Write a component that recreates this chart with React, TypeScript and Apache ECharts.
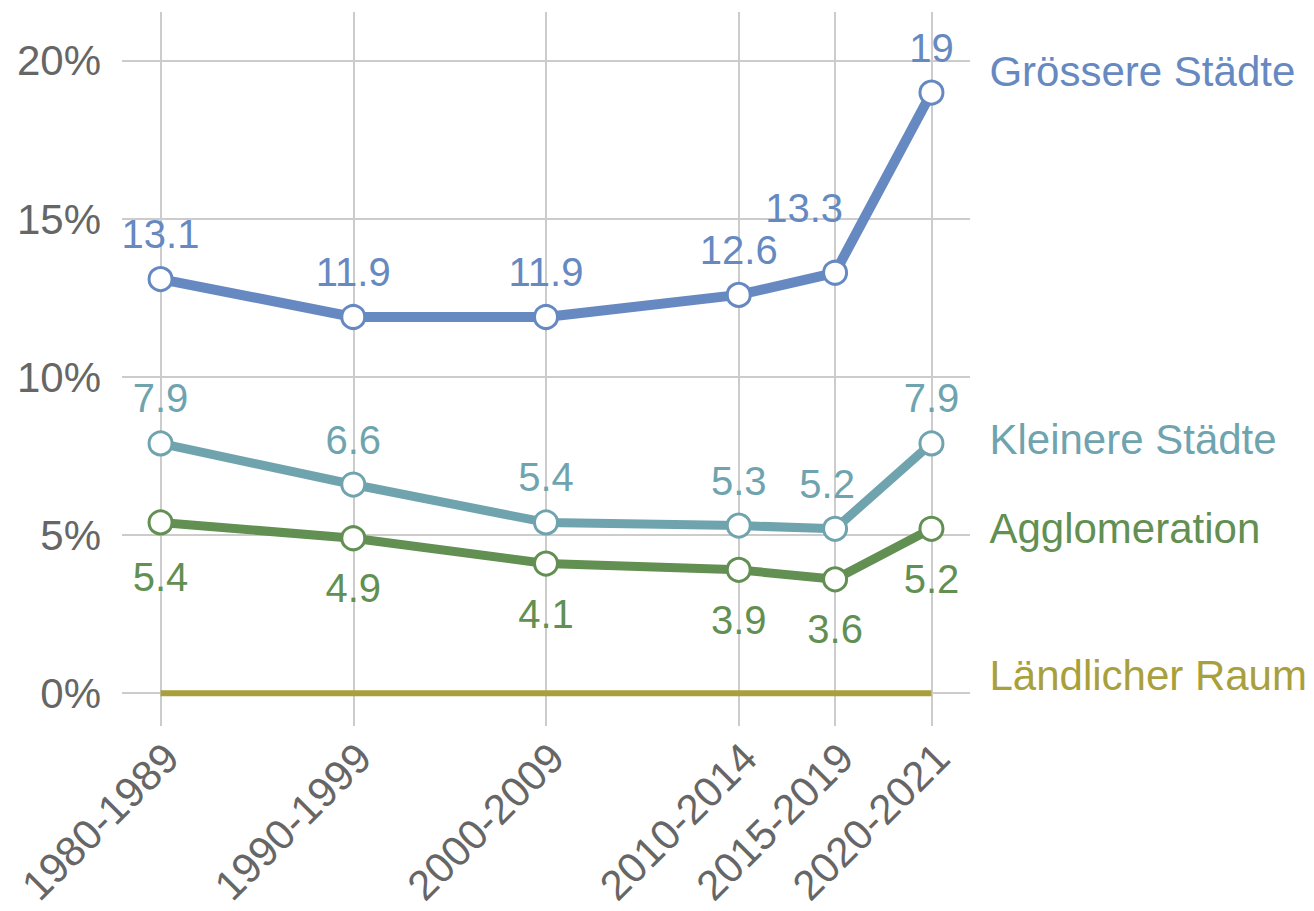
import React, { useEffect, useRef } from "react";
import * as echarts from "echarts";

const categories = ["1980-1989", "1990-1999", "2000-2009", "2010-2014", "2015-2019", "2020-2021"];
const categoryPos = [0, 2, 4, 6, 7, 8];
const seriesNames = ["Grössere Städte", "Kleinere Städte", "Agglomeration", "Ländlicher Raum"];
const grosse = [13.1, 11.9, 11.9, 12.6, 13.3, 19];
const kleine = [7.9, 6.6, 5.4, 5.3, 5.2, 7.9];
const agglo = [5.4, 4.9, 4.1, 3.9, 3.6, 5.2];
const laendlich = [0, 0, 0, 0, 0, 0];
const yTicks = [0, 5, 10, 15, 20];

const colors = ["#6689c1", "#6fa4af", "#628f52", "#a9a03b"];
const FONT = "Liberation Sans, Arial, Helvetica, sans-serif";

export default function App() {
  const ref = useRef<HTMLDivElement>(null);
  useEffect(() => {
    if (!ref.current) return;
    const chart = echarts.init(ref.current, null, { renderer: "svg" });
    const pts = (vals: number[]) => vals.map((v, i) => [categoryPos[i], v]);
    const markerSeries = (idx: number, vals: number[], pos: "top" | "bottom", width: number, z: number) => ({
      type: "line",
      name: seriesNames[idx],
      data: pts(vals).map((p, i) => {
        const item: any = { value: p };
        if (idx === 0 && i === 4) item.label = { offset: [-31, -20] };
        if (idx === 1 && i === 4) item.label = { offset: [-8, 0] };
        if (idx === 2 && i === 0) item.label = { offset: [0, 5] };
        return item;
      }),
      z,
      lineStyle: { color: colors[idx], width },
      itemStyle: { color: "#ffffff", borderColor: colors[idx], borderWidth: 3 },
      symbol: "circle",
      symbolSize: 23,
      showSymbol: true,
      label: {
        show: true,
        position: pos,
        distance: pos === "top" ? 12 : 17,
        color: colors[idx],
        fontSize: 40,
        fontFamily: FONT,
        formatter: (p: any) => String(p.value[1]),
      },
      endLabel: {
        show: true,
        formatter: seriesNames[idx],
        color: colors[idx],
        fontSize: 42,
        fontFamily: FONT,
        distance: 58,
        offset: idx === 0 ? [0, -21] : idx === 1 ? [0, -4] : [0, 0],
      },
      emphasis: { disabled: true },
    });
    chart.setOption({
      animation: false,
      backgroundColor: "#ffffff",
      grid: { left: 122, right: 344, top: 12, bottom: 185, outerBoundsMode: "none", containLabel: false },
      xAxis: {
        type: "value",
        min: -0.4,
        max: 8.4,
        axisLine: { show: false },
        axisTick: { show: false, customValues: categoryPos },
        splitLine: { show: true, lineStyle: { color: "#cccccc", width: 2 } },
        axisLabel: {
          show: true,
          customValues: categoryPos,
          rotate: 45,
          margin: 14,
          verticalAlign: "top",
          lineHeight: 30,
          fontSize: 42,
          color: "#666666",
          fontFamily: FONT,
          formatter: (v: number) => {
            const i = categoryPos.indexOf(v);
            return i >= 0 ? categories[i] : "";
          },
        },
      },
      yAxis: {
        type: "value",
        min: -1.04,
        max: 21.55,
        axisLine: { show: false },
        axisTick: { show: false, customValues: yTicks },
        splitLine: { show: true, lineStyle: { color: "#cccccc", width: 2 } },
        axisLabel: {
          show: true,
          customValues: yTicks,
          margin: 21,
          fontSize: 42,
          color: "#666666",
          fontFamily: FONT,
          formatter: (v: number) => v + "%",
        },
      },
      series: [
        {
          type: "line",
          name: seriesNames[3],
          data: pts(laendlich),
          z: 2,
          showSymbol: false,
          symbol: "none",
          lineStyle: { color: colors[3], width: 6 },
          endLabel: {
            show: true,
            formatter: seriesNames[3],
            color: colors[3],
            fontSize: 42,
            fontFamily: FONT,
            distance: 58,
            offset: [0, -18],
          },
          emphasis: { disabled: true },
        },
        markerSeries(2, agglo, "bottom", 9, 3),
        markerSeries(1, kleine, "top", 9, 4),
        markerSeries(0, grosse, "top", 10, 5),
      ],
    });
    return () => chart.dispose();
  }, []);
  return <div ref={ref} style={{ width: 1314, height: 911, margin: -8 }} />;
}
